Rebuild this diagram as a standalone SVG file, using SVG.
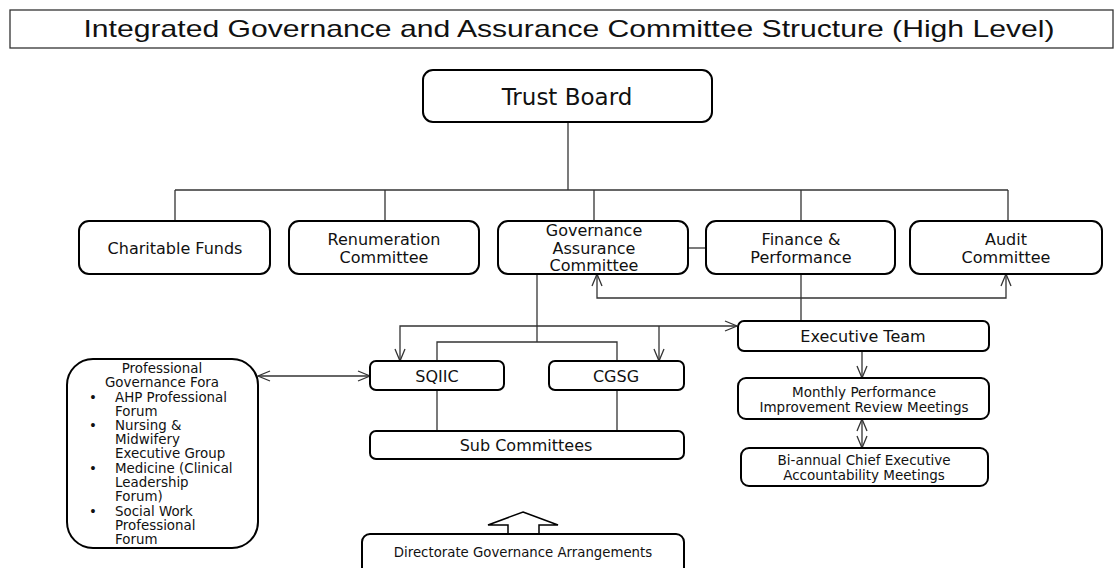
<svg xmlns="http://www.w3.org/2000/svg" width="1118" height="568" viewBox="0 0 1118 568">
<style>
  .box { fill: #fff; stroke: #000; stroke-width: 2; }
  .t { font-family: "DejaVu Sans", Verdana, sans-serif; fill: #111; text-anchor: middle; }
  .t14 { font-size: 16px; }
  .t13 { font-size: 13.5px; }
  .conn path { fill: none; stroke: #333; stroke-width: 1.3; }
  .fora { font-family: "DejaVu Sans", Verdana, sans-serif; fill: #111; font-size: 13.4px; }
</style>
<defs>
  <marker id="arr" markerUnits="userSpaceOnUse" markerWidth="14" markerHeight="12" viewBox="0 0 14 12" refX="13" refY="6" orient="auto-start-reverse">
    <path d="M1,1 L13,6 L1,11" fill="none" stroke="#333" stroke-width="1.3"/>
  </marker>
</defs>
<rect width="1118" height="568" fill="#fff"/>

<g id="title">
  <rect x="10" y="10" width="1103" height="38" fill="#fff" stroke="#333" stroke-width="1.3"/>
  <text x="569" y="37" font-family="Liberation Sans, Arial, sans-serif" font-size="24" text-anchor="middle" fill="#111" textLength="971" lengthAdjust="spacingAndGlyphs">Integrated Governance and Assurance Committee Structure (High Level)</text>
</g>

<g class="conn" id="connectors">
  <path d="M568,122 V190"/>
  <path d="M175,190 H1008"/>
  <path d="M175,190 V221 M385,190 V221 M594,190 V221 M801,190 V221 M1008,190 V221"/>
  <path d="M688,248 H706"/>
  <path d="M537,274 V342"/>
  <path d="M437,361 V342 H617 V361"/>
  <path d="M400,361 V326 H737" marker-start="url(#arr)" marker-end="url(#arr)"/>
  <path d="M659,326 V361" marker-end="url(#arr)"/>
  <path d="M801,274 V321"/>
  <path d="M597,274 V298 H1006 V274" marker-start="url(#arr)" marker-end="url(#arr)"/>
  <path d="M258,376 H370" marker-start="url(#arr)" marker-end="url(#arr)"/>
  <path d="M862,351 V378" marker-end="url(#arr)"/>
  <path d="M862,419 V448" marker-start="url(#arr)" marker-end="url(#arr)"/>
  <path d="M437,390 V431 M617,390 V431"/>
</g>

<g id="trust-board">
  <rect class="box" x="423" y="70" width="289" height="52" rx="10"/>
  <text class="t" x="567" y="105" font-size="23">Trust Board</text>
</g>

<g id="charitable-funds">
  <rect class="box" x="79" y="221" width="191" height="53" rx="10"/>
  <text class="t t14" x="175" y="254">Charitable Funds</text>
</g>

<g id="renumeration">
  <rect class="box" x="289" y="221" width="190" height="53" rx="10"/>
  <text class="t t14" x="384" y="245">Renumeration</text>
  <text class="t t14" x="384" y="263">Committee</text>
</g>

<g id="governance-assurance">
  <rect class="box" x="498" y="221" width="190" height="53" rx="10"/>
  <text class="t t14" x="594" y="236">Governance</text>
  <text class="t t14" x="594" y="254">Assurance</text>
  <text class="t t14" x="594" y="271">Committee</text>
</g>

<g id="finance-performance">
  <rect class="box" x="706" y="221" width="189" height="53" rx="10"/>
  <text class="t t14" x="801" y="245">Finance &amp;</text>
  <text class="t t14" x="801" y="263">Performance</text>
</g>

<g id="audit">
  <rect class="box" x="910" y="221" width="192" height="53" rx="10"/>
  <text class="t t14" x="1006" y="245">Audit</text>
  <text class="t t14" x="1006" y="263">Committee</text>
</g>

<g id="executive-team">
  <rect class="box" x="738" y="321" width="251" height="30" rx="6"/>
  <text class="t t14" x="863" y="342">Executive Team</text>
</g>

<g id="monthly-performance">
  <rect class="box" x="738" y="378" width="251" height="41" rx="8"/>
  <text class="t t13" x="864" y="397">Monthly Performance</text>
  <text class="t t13" x="864" y="412">Improvement Review Meetings</text>
</g>

<g id="bi-annual">
  <rect class="box" x="741" y="448" width="247" height="38" rx="8"/>
  <text class="t t13" x="864" y="465">Bi-annual Chief Executive</text>
  <text class="t t13" x="864" y="480">Accountability Meetings</text>
</g>

<g id="sqiic">
  <rect class="box" x="370" y="361" width="134" height="29" rx="6"/>
  <text class="t t14" x="437" y="382">SQIIC</text>
</g>

<g id="cgsg">
  <rect class="box" x="549" y="361" width="135" height="29" rx="6"/>
  <text class="t t14" x="616" y="382">CGSG</text>
</g>

<g id="sub-committees">
  <rect class="box" x="370" y="431" width="314" height="28" rx="6"/>
  <text class="t t14" x="526" y="451">Sub Committees</text>
</g>

<g id="professional-fora">
  <rect class="box" x="67" y="359" width="191" height="189" rx="26"/>
  <text class="t" font-size="13.4" x="162" y="373">Professional</text>
  <text class="t" font-size="13.4" x="162" y="387">Governance Fora</text>
  <g class="fora">
    <text x="89" y="402">•</text><text x="115" y="402">AHP Professional</text>
    <text x="115" y="416">Forum</text>
    <text x="89" y="430">•</text><text x="115" y="430">Nursing &amp;</text>
    <text x="115" y="444">Midwifery</text>
    <text x="115" y="458">Executive Group</text>
    <text x="89" y="473">•</text><text x="115" y="473">Medicine (Clinical</text>
    <text x="115" y="487">Leadership</text>
    <text x="115" y="501">Forum)</text>
    <text x="89" y="516">•</text><text x="115" y="516">Social Work</text>
    <text x="115" y="530">Professional</text>
    <text x="115" y="544">Forum</text>
  </g>
</g>

<g id="block-arrow">
  <polygon points="523,512 558,525 539,525 539,534 508,534 508,525 488,525" fill="#fff" stroke="#000" stroke-width="1.5"/>
</g>

<g id="directorate">
  <rect class="box" x="362" y="534" width="322" height="44" rx="8"/>
  <text class="t" font-size="13.3" x="523" y="557">Directorate Governance Arrangements</text>
</g>
</svg>
